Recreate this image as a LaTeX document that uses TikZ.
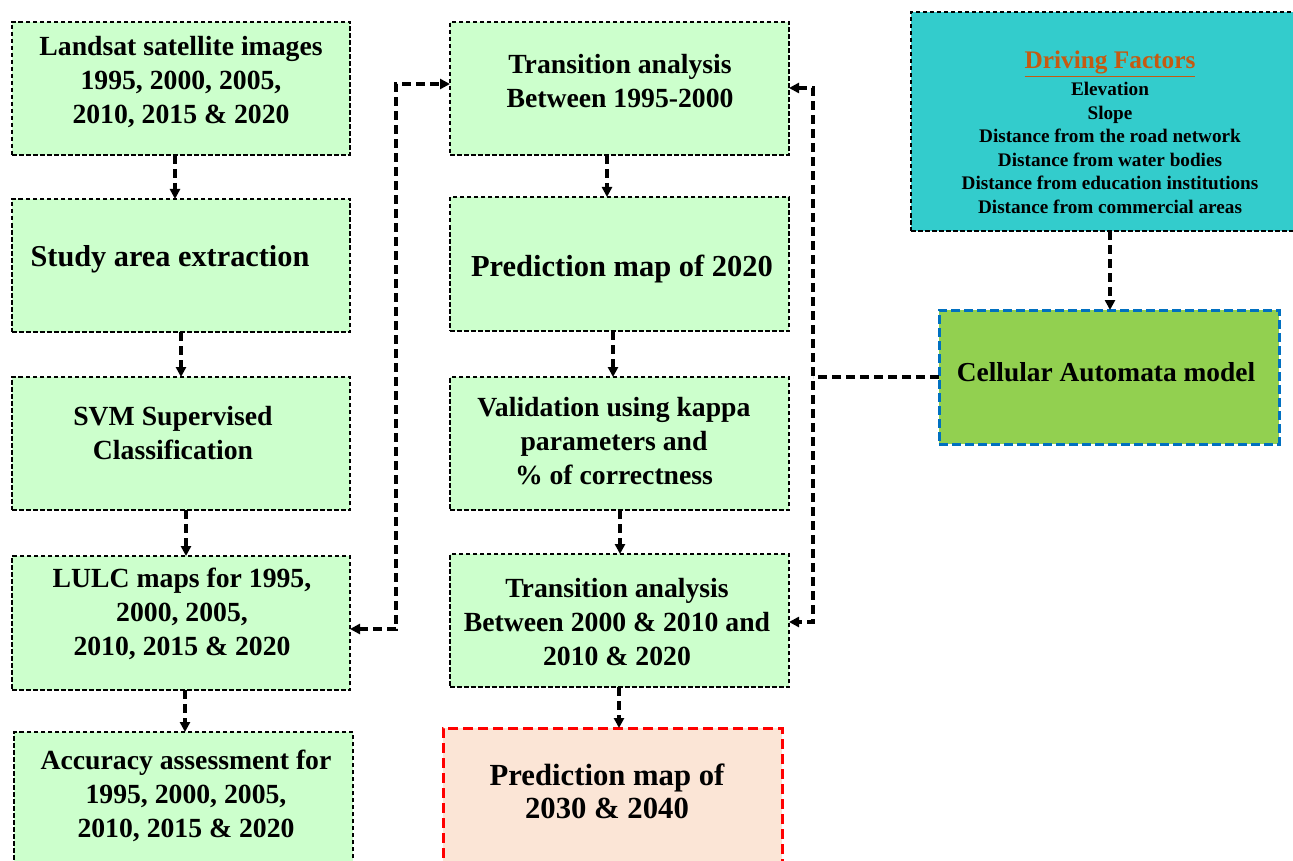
\documentclass[tikz,border=0pt]{standalone}
\usepackage{fontspec}
\setmainfont{Liberation Serif}
\usetikzlibrary{arrows.meta}
\definecolor{lgreen}{HTML}{CCFFCC}
\definecolor{teal2}{HTML}{33CCCC}
\definecolor{cagreen}{HTML}{92D050}
\definecolor{peach}{HTML}{FBE5D6}
\definecolor{orangetitle}{HTML}{C55A11}
\definecolor{blueborder}{HTML}{0070C0}
\begin{document}
\begin{tikzpicture}[x=1pt,y=-1pt,
  box/.style={draw=black, line width=1.7pt, dash pattern=on 4.5pt off 2.5pt, fill=lgreen,
    minimum width=338pt, minimum height=133pt, inner sep=0pt, outer sep=0pt},
  txt/.style={font=\bfseries\fontsize{27.7}{34}\selectfont, align=center, inner sep=0pt},
  conn/.style={line width=3.3pt, dash pattern=on 9pt off 5pt, -{Triangle[length=10pt,width=10pt]}},
  both/.style={{Triangle[length=10pt,width=10pt]}-{Triangle[length=10pt,width=10pt]}},
]
\path[use as bounding box] (0,0) rectangle (1293,861);
\clip (0,0) rectangle (1293,861);
\fill[white] (0,0) rectangle (1293,861);

% left column
\node[box] (b1) at (181,88.5) {};
\node[box] (b2) at (181,265.5) {};
\node[box] (b3) at (181,443.5) {};
\node[box, minimum height=134pt] (b4) at (181,623) {};
\node[box, minimum width=339pt, minimum height=158pt] (b5) at (183.5,811) {};
% middle column
\node[box, minimum width=339pt] (m1) at (619.5,88.5) {};
\node[box, minimum width=339pt, minimum height=134pt] (m2) at (619.5,264) {};
\node[box, minimum width=339pt] (m3) at (619.5,443.5) {};
\node[box, minimum width=339pt] (m4) at (619.5,620.5) {};
\node[box, draw=red, fill=peach, line width=3pt, dash pattern=on 10pt off 5pt,
  minimum width=339pt, minimum height=162pt] (m5) at (612.5,809) {};
% right
\node[box, fill=teal2, minimum width=399pt, minimum height=219pt] (df) at (1110.5,121.5) {};
\node[box, fill=cagreen, draw=blueborder, line width=3pt, dash pattern=on 9pt off 4pt,
  minimum width=340pt, minimum height=134pt] (ca) at (1109,377) {};

% texts
\node[txt] (t1) at (181,82) {Landsat satellite images\\1995, 2000, 2005,\\2010, 2015 \& 2020};
\node[txt, font=\bfseries\fontsize{30.3}{34}\selectfont] (t2) at (170,259) {Study area extraction};
\node[txt] (t3) at (173,433) {SVM Supervised\\Classification};
\node[txt] (t4) at (182,614) {LULC maps for 1995,\\2000, 2005,\\2010, 2015 \& 2020};
\node[txt] (t5) at (186,796) {Accuracy assessment for\\1995, 2000, 2005,\\2010, 2015 \& 2020};
\node[txt] (tm1) at (620,81) {Transition analysis\\Between 1995-2000};
\node[txt, font=\bfseries\fontsize{30.5}{34}\selectfont] (tm2) at (622,269) {Prediction map of 2020};
\node[txt] (tm3) at (614,441) {Validation using kappa\\parameters and\\\% of correctness};
\node[txt] (tm4) at (617,622) {Transition analysis\\Between 2000 \& 2010 and\\2010 \& 2020};
\node[txt, font=\bfseries\fontsize{30.7}{33}\selectfont] (tm5) at (607,791) {Prediction map of\\2030 \& 2040};
\node[txt, font=\bfseries\fontsize{27.4}{34}\selectfont] (tca) at (1106,372) {Cellular Automata model};
\node[txt, font=\bfseries\fontsize{25.3}{28}\selectfont, text=orangetitle] (tdf) at (1110,64) {\underline{Driving Factors}};
\node[txt, font=\bfseries\fontsize{19.2}{23.6}\selectfont] (tdl) at (1110,148) {Elevation\\Slope\\Distance from the road network\\Distance from water bodies\\Distance from education institutions\\Distance from commercial areas};

% connectors left
\draw[conn] (175,0 |- b1.south) -- (175,0 |- b2.north);
\draw[conn] (181,0 |- b2.south) -- (181,0 |- b3.north);
\draw[conn] (186,0 |- b3.south) -- (186,0 |- b4.north);
\draw[conn] (185,0 |- b4.south) -- (185,0 |- b5.north);
% connectors middle
\draw[conn] (607,0 |- m1.south) -- (607,0 |- m2.north);
\draw[conn] (613,0 |- m2.south) -- (613,0 |- m3.north);
\draw[conn] (620,0 |- m3.south) -- (620,0 |- m4.north);
\draw[conn] (619,0 |- m4.south) -- (619,0 |- m5.north);
% driving factors to CA
\draw[conn] (1110,0 |- df.south) -- (1110,0 |- ca.north);
% LULC <-> transition
\coordinate (lj) at (396,629);
\coordinate (lt) at (396,84);
\draw[conn, both] (b4.east |- lj) -- (lj) -- (lt) -- (m1.west |- lt);
% CA feedback
\coordinate (ct) at (813,88);
\coordinate (cb) at (813,622);
\draw[conn, both] (m1.east |- ct) -- (ct) -- (cb) -- (m4.east |- cb);
\draw[conn, -] (ca.west) -- (ca.west -| ct);
\end{tikzpicture}
\end{document}
